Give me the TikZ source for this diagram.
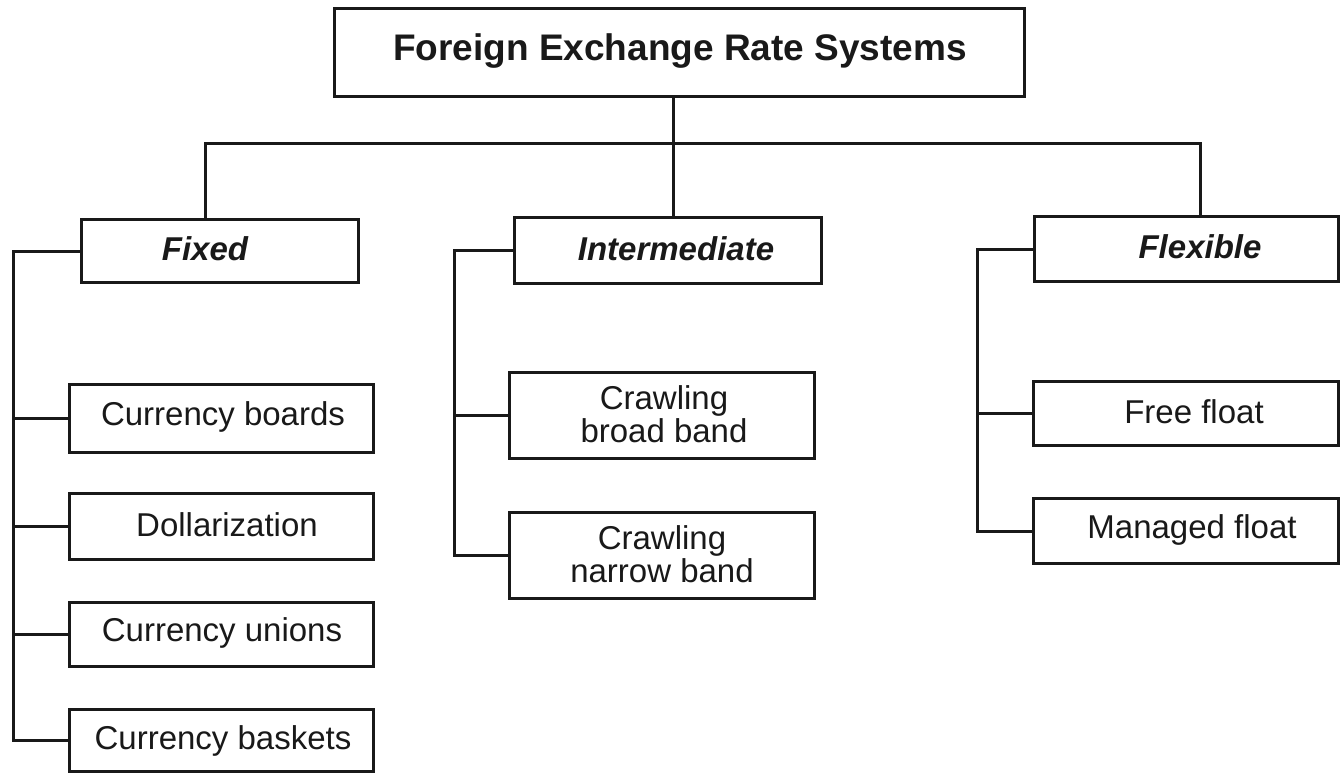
\documentclass[tikz,border=0pt]{standalone}
\usepackage{fontspec}
\setmainfont{Liberation Sans}
\begin{document}
\begin{tikzpicture}[x=1pt,y=-1pt,
  box/.style={draw=black!90, line width=3pt, rectangle, inner sep=0pt, anchor=north west},
  conn/.style={draw=black!90, line width=3pt},
  lab/.style={font=\fontsize{33}{33}\selectfont, align=center, inner sep=0pt, text=black!90},
  cat/.style={font=\fontsize{33}{33}\selectfont\bfseries\itshape, inner sep=0pt, text=black!90},
  ttl/.style={font=\fontsize{37}{40}\selectfont\bfseries, inner sep=0pt, text=black!90}]
\useasboundingbox[fill=white] (0,0) rectangle (1341,772);
% boxes
\node[box, minimum width=690pt, minimum height=88pt] (top) at (333,7) {};
\node[box, minimum width=277pt, minimum height=63pt] (fixed) at (80,218) {};
\node[box, minimum width=307pt, minimum height=66pt] (inter) at (513,216) {};
\node[box, minimum width=304pt, minimum height=65pt] (flex) at (1033,215) {};
\node[box, minimum width=304pt, minimum height=68pt] (cb) at (68,383) {};
\node[box, minimum width=304pt, minimum height=66pt] (doll) at (68,492) {};
\node[box, minimum width=304pt, minimum height=64pt] (cu) at (68,601) {};
\node[box, minimum width=304pt, minimum height=62pt] (cbk) at (68,708) {};
\node[box, minimum width=305pt, minimum height=86pt] (cbb) at (508,371) {};
\node[box, minimum width=305pt, minimum height=86pt] (cnb) at (508,511) {};
\node[box, minimum width=305pt, minimum height=64pt] (ff) at (1032,380) {};
\node[box, minimum width=305pt, minimum height=65pt] (mf) at (1032,497) {};
% texts
\node[ttl] (t-top) at (680,51) {Foreign Exchange Rate Systems};
\node[cat] (t-fixed) at (205,249) {Fixed};
\node[cat] (t-inter) at (676,249) {Intermediate};
\node[cat] (t-flex) at (1200,247) {Flexible};
\node[lab] (t-cb) at (223,417) {Currency boards};
\node[lab] (t-doll) at (227,525) {Dollarization};
\node[lab] (t-cu) at (222,633) {Currency unions};
\node[lab] (t-cbk) at (223,741) {Currency baskets};
\node[lab] (t-cbb) at (664,414) {Crawling\\broad band};
\node[lab] (t-cnb) at (662,554) {Crawling\\narrow band};
\node[lab] (t-ff) at (1194,412) {Free float};
\node[lab] (t-mf) at (1192,530) {Managed float};
% junction coordinates
\coordinate (jF) at (205,143);
\coordinate (jI) at (673,143);
\coordinate (jX) at (1200,143);
\coordinate (lF) at (13,250);
\coordinate (lI) at (454,250);
\coordinate (lX) at (977,250);
% top-level connectors
\draw[conn] (jI |- top.south) -- (jI |- inter.north);
\draw[conn] (jF |- fixed.north) -- (jF) -- (jX) -- (jX |- flex.north);
% fixed bracket
\draw[conn] (fixed.west) -- (lF |- fixed.west) -- (lF |- cbk.west) -- (cbk.west);
\draw[conn] (lF |- cb.west) -- (cb.west);
\draw[conn] (lF |- doll.west) -- (doll.west);
\draw[conn] (lF |- cu.west) -- (cu.west);
% intermediate bracket
\draw[conn] (inter.west) -- (lI |- inter.west) -- (lI |- cnb.west) -- (cnb.west);
\draw[conn] (lI |- cbb.west) -- (cbb.west);
% flexible bracket
\draw[conn] (flex.west) -- (lX |- flex.west) -- (lX |- mf.west) -- (mf.west);
\draw[conn] (lX |- ff.west) -- (ff.west);
\end{tikzpicture}
\end{document}
